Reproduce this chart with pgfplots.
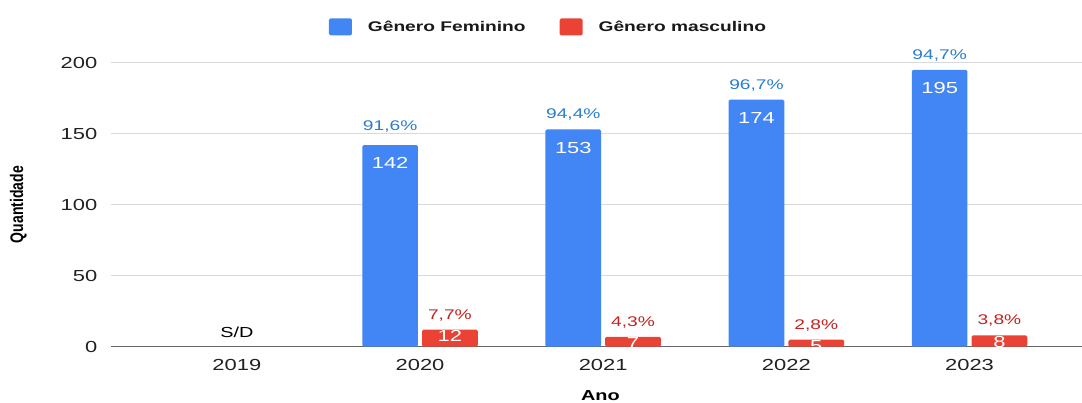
\documentclass[border=0pt]{standalone}
\usepackage{fontspec}
\setmainfont{Liberation Sans}[FakeStretch=1.37]
\newfontfamily\plainsans{Liberation Sans}
\usepackage{pgfplots}
\pgfplotsset{compat=1.18}
\definecolor{fem}{HTML}{4285F4}
\definecolor{masc}{HTML}{EA4335}
\definecolor{femtxt}{HTML}{2A7DD1}
\definecolor{masctxt}{HTML}{C5221F}
\definecolor{gridc}{HTML}{D9D9D9}
\definecolor{zeroc}{HTML}{666666}
\definecolor{tickc}{HTML}{222222}
\begin{document}
\begin{tikzpicture}[x=1pt,y=1pt]
\useasboundingbox (0,0) rectangle (1082,403);
\begin{axis}[
  at={(111pt,56.3pt)}, anchor=south west, scale only axis,
  width=971pt, height=284pt,
  xmin=-0.687, xmax=4.614, ymin=0, ymax=200,
  axis line style={draw=none},
  tick style={draw=none},
  ymajorgrids, grid style={gridc, line width=1pt},
  extra y ticks={0}, extra y tick labels={},
  extra y tick style={grid style={zeroc, line width=1.4pt}},
  xtick={0,1,2,3,4}, xticklabels={2019,2020,2021,2022,2023},
  ytick={0,50,100,150,200},
  /pgf/number format/assume math mode=true,
  ticklabel style={font=\fontsize{16}{18}\selectfont, text=tickc, inner sep=0pt},
  yticklabel style={anchor=east, xshift=-13.5pt},
  xticklabel style={anchor=north, yshift=-12.6pt},
  ylabel={\scalebox{1}[1.3]{Quantidade}},
  ylabel style={at={(axis description cs:-0.0955,0.5)}, anchor=center, font=\plainsans\bfseries\fontsize{14}{16}\selectfont},
  xlabel={Ano},
  xlabel style={at={(axis description cs:0.504,-0.189)}, anchor=base, font=\bfseries\fontsize{14.5}{16}\selectfont},
  legend style={at={(axis description cs:0.4495,1.126)}, anchor=center, draw=none, fill=none,
    legend columns=2, font=\bfseries\fontsize{14}{16}\selectfont,
    /tikz/every even column/.append style={column sep=34pt},
    nodes={inner sep=0pt, text=black!90}},
  legend image code/.code={\path[#1, rounded corners=1.5pt] (0pt,-8.5pt) rectangle (23pt,8.5pt);},
  legend cell align=left,
  clip=false,
]
% Feminino bars
\addplot[ybar, bar width=55.7pt, bar shift=-29.9pt, fill=fem, draw=none, rounded corners=1.5pt]
  coordinates {(1,142) (2,153) (3,174) (4,195)};
\addlegendentry{\hspace{16pt}Gênero Feminino}
% Masculino bars
\addplot[ybar, bar width=55.7pt, bar shift=29.9pt, fill=masc, draw=none, rounded corners=1.5pt]
  coordinates {(1,12) (2,7) (3,5) (4,8)};
\addlegendentry{\hspace{16pt}Gênero masculino}
% values inside bars
\addplot[forget plot, draw=none, mark=none, nodes near coords, point meta=explicit symbolic,
  every node near coord/.append style={anchor=north, yshift=-12.4pt, inner sep=0pt,
    text=white, font=\fontsize{16}{18}\selectfont}]
  coordinates {(0.837,142) [142] (1.837,153) [153] (2.837,174) [174] (3.837,195) [195]};
\addplot[forget plot, draw=none, mark=none, nodes near coords, point meta=explicit symbolic,
  every node near coord/.append style={anchor=north, yshift=-0.5pt, inner sep=0pt,
    text=white, font=\fontsize{16}{18}\selectfont}]
  coordinates {(1.163,12) [12] (2.163,7) [7] (3.163,5) [5] (4.163,8) [8]};
% percentage labels
\addplot[forget plot, draw=none, mark=none, nodes near coords, point meta=explicit symbolic,
  every node near coord/.append style={anchor=south, yshift=8.5pt, inner sep=0pt,
    text=femtxt, font=\fontsize{14}{16}\selectfont}]
  coordinates {(0.837,142) [\raisebox{6pt}{91,6\%}] (1.837,153) [94,4\%] (2.837,174) [96,7\%] (3.837,195) [94,7\%]};
\addplot[forget plot, draw=none, mark=none, nodes near coords, point meta=explicit symbolic,
  every node near coord/.append style={anchor=south, yshift=8.5pt, inner sep=0pt,
    text=masctxt, font=\fontsize{14}{16}\selectfont}]
  coordinates {(1.163,12) [7,7\%] (2.163,7) [4,3\%] (3.163,5) [2,8\%] (4.163,8) [3,8\%]};
% S/D label for 2019
\addplot[forget plot, draw=none, mark=none, nodes near coords, point meta=explicit symbolic,
  every node near coord/.append style={anchor=south, yshift=9pt, inner sep=0pt,
    text=black, font=\fontsize{14.5}{16}\selectfont}]
  coordinates {(0,0) [S/D]};
\end{axis}
\end{tikzpicture}
\end{document}
